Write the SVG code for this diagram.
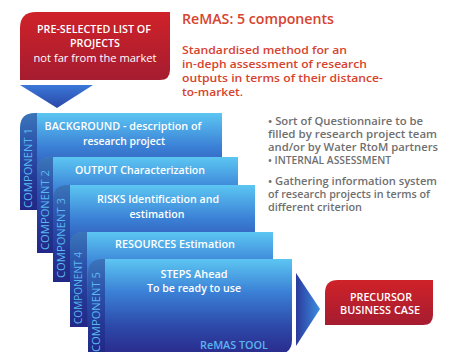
<svg xmlns="http://www.w3.org/2000/svg" width="451" height="352" viewBox="0 0 451 352">
<defs>
<linearGradient id="gRed" x1="0" y1="0" x2="0" y2="1">
<stop offset="0" stop-color="#cf2229"/><stop offset="1" stop-color="#a51c30"/>
</linearGradient>
<linearGradient id="gCard" x1="0" y1="0" x2="0" y2="1">
<stop offset="0" stop-color="#5cc6f2"/><stop offset="0.35" stop-color="#3b80d6"/><stop offset="0.7" stop-color="#2d4aaa"/><stop offset="1" stop-color="#2a2b8c"/>
</linearGradient>
<linearGradient id="gTriD" x1="0" y1="0" x2="0" y2="1">
<stop offset="0" stop-color="#3a78d8"/><stop offset="1" stop-color="#2a47a8"/>
</linearGradient>
<linearGradient id="gTriR" x1="0" y1="0" x2="1" y2="0">
<stop offset="0" stop-color="#2b3a9c"/><stop offset="1" stop-color="#3c8ee0"/>
</linearGradient>
<style>
.w{font-family:"Open Sans","Liberation Sans",sans-serif;font-weight:600;fill:#ffffff;text-anchor:middle;font-size:11px}
.wr{font-family:"Open Sans","Liberation Sans",sans-serif;font-weight:400;fill:#ffffff;text-anchor:middle;font-size:11px}
.red{font-family:"Open Sans","Liberation Sans",sans-serif;font-weight:600;fill:#d6432e;font-size:11.5px}
.gray{font-family:"Open Sans","Liberation Sans",sans-serif;font-weight:600;fill:#6f6f70;font-size:10px}
.comp{font-family:"Open Sans","Liberation Sans",sans-serif;font-weight:400;fill:#5ab8f0;font-size:10px;text-anchor:end}
.card{fill:url(#gCard)}
.strip{fill:#1a2480;opacity:0.5}
</style>
</defs>

<g id="preselected">
<path d="M20,28 Q20,12 36,12 H170 V70 Q170,80 160,80 H20 Z" fill="url(#gRed)"/>
<text class="w" x="94" y="33" textLength="114" lengthAdjust="spacingAndGlyphs">PRE-SELECTED LIST OF</text>
<text class="w" x="95" y="47" textLength="50" lengthAdjust="spacingAndGlyphs">PROJECTS</text>
<text class="wr" x="95" y="62" textLength="123" lengthAdjust="spacingAndGlyphs">not far from the market</text>
</g>

<g id="connectors">
<polygon points="20,85 93,85 57,108" fill="url(#gTriD)"/>
<polygon points="296,273 320,309 296,346" fill="url(#gTriR)"/>
</g>

<g id="heading">
<text class="red" x="182" y="24" textLength="152" lengthAdjust="spacingAndGlyphs" style="font-size:14.5px">ReMAS: 5 components</text>
<text class="red" x="182" y="54" textLength="165" lengthAdjust="spacingAndGlyphs">Standardised method for an</text>
<text class="red" x="182" y="68" textLength="185" lengthAdjust="spacingAndGlyphs">in-deph assessment of research</text>
<text class="red" x="182" y="82" textLength="201" lengthAdjust="spacingAndGlyphs">outputs in terms of their distance-</text>
<text class="red" x="182" y="96" textLength="61" lengthAdjust="spacingAndGlyphs">to-market.</text>
</g>

<g id="notes">
<text class="gray" x="268" y="125" textLength="155" lengthAdjust="spacingAndGlyphs">• Sort of Questionnaire to be</text>
<text class="gray" x="268" y="138" textLength="169" lengthAdjust="spacingAndGlyphs">filled by research project team</text>
<text class="gray" x="268" y="151" textLength="170" lengthAdjust="spacingAndGlyphs">and/or by Water RtoM partners</text>
<text class="gray" x="268" y="164" textLength="123" lengthAdjust="spacingAndGlyphs">• INTERNAL ASSESSMENT</text>
<text class="gray" x="268" y="185" textLength="169" lengthAdjust="spacingAndGlyphs">• Gathering information system</text>
<text class="gray" x="268" y="198" textLength="162" lengthAdjust="spacingAndGlyphs">of research projects in terms of</text>
<text class="gray" x="268" y="211" textLength="94" lengthAdjust="spacingAndGlyphs">different criterion</text>
</g>

<g id="component1">
<path class="card" d="M20,128 Q20,113 35,113 H222 V210 H20 Z"/>
<path class="strip" d="M20,128 Q20,113 35,113 H37 V210 H20 Z"/>
<text class="comp" transform="translate(32,128) rotate(-90)" textLength="80" lengthAdjust="spacingAndGlyphs">COMPONENT 1</text>
<text class="w" x="123" y="130" textLength="157" lengthAdjust="spacingAndGlyphs">BACKGROUND - description of</text>
<text class="w" x="124" y="145" textLength="82" lengthAdjust="spacingAndGlyphs">research project</text>
</g>

<g id="component2">
<path class="card" d="M37,171 Q37,157 51,157 H238 V253 H37 Z"/>
<path class="strip" d="M37,171 Q37,157 51,157 H53 V253 H37 Z"/>
<text class="comp" transform="translate(49,170) rotate(-90)" textLength="80" lengthAdjust="spacingAndGlyphs">COMPONENT 2</text>
<text class="w" x="140" y="174" textLength="130" lengthAdjust="spacingAndGlyphs">OUTPUT Characterization</text>
</g>

<g id="component3">
<path class="card" d="M53,199 Q53,185 67,185 H255 V282 H53 Z"/>
<path class="strip" d="M53,199 Q53,185 67,185 H70 V282 H53 Z"/>
<text class="comp" transform="translate(65,198) rotate(-90)" textLength="80" lengthAdjust="spacingAndGlyphs">COMPONENT 3</text>
<text class="w" x="158" y="203" textLength="122" lengthAdjust="spacingAndGlyphs">RISKS Identification and</text>
<text class="w" x="157" y="218" textLength="55" lengthAdjust="spacingAndGlyphs">estimation</text>
</g>

<g id="component4">
<path class="card" d="M70,246 Q70,232 84,232 H273 V327 H70 Z"/>
<path class="strip" d="M70,246 Q70,232 84,232 H87 V327 H70 Z"/>
<text class="comp" transform="translate(82,252) rotate(-90)" textLength="72" lengthAdjust="spacingAndGlyphs">COMPONENT 4</text>
<text class="w" x="175" y="248" textLength="120" lengthAdjust="spacingAndGlyphs">RESOURCES Estimation</text>
</g>

<g id="component5">
<path class="card" d="M88,273 Q88,259 102,259 H292 V340 Q292,354 278,354 H88 Z"/>
<path class="strip" d="M88,273 Q88,259 102,259 H105 V354 H88 Z"/>
<text class="comp" transform="translate(100,272) rotate(-90)" textLength="80" lengthAdjust="spacingAndGlyphs">COMPONENT 5</text>
<text class="w" x="194" y="278" textLength="67" lengthAdjust="spacingAndGlyphs">STEPS Ahead</text>
<text class="w" x="194" y="292" textLength="94" lengthAdjust="spacingAndGlyphs">To be ready to use</text>
<text class="w" x="234" y="349" textLength="68" lengthAdjust="spacingAndGlyphs" style="fill:#5ab4ee">ReMAS TOOL</text>
</g>

<g id="precursor">
<path d="M325,293 Q325,280 338,280 H433 V315 Q433,325 423,325 H325 Z" fill="url(#gRed)"/>
<text class="w" x="381" y="301" textLength="62" lengthAdjust="spacingAndGlyphs" style="font-size:10px">PRECURSOR</text>
<text class="w" x="380" y="314" textLength="80" lengthAdjust="spacingAndGlyphs" style="font-size:10px">BUSINESS CASE</text>
</g>
</svg>
